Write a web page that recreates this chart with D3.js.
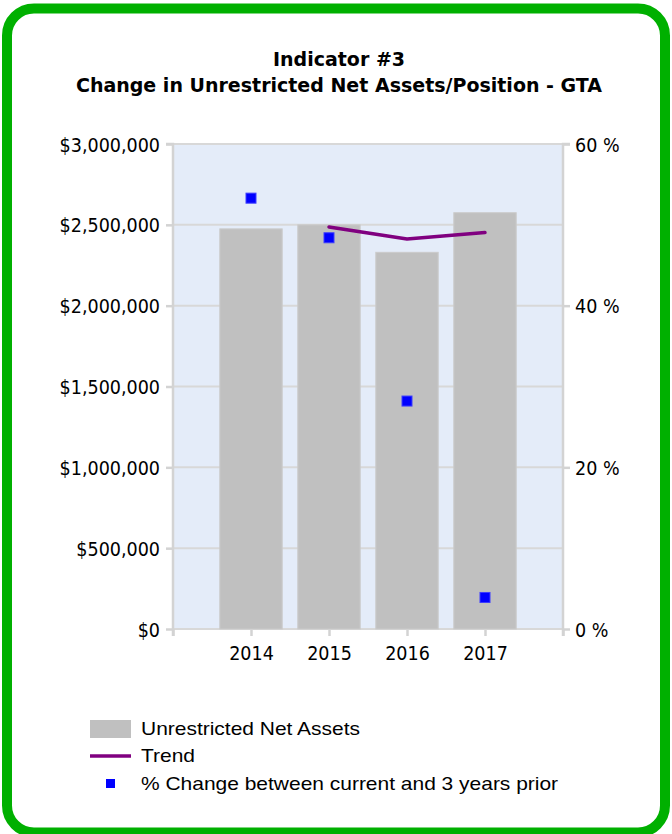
<!DOCTYPE html>
<html>
<head>
<meta charset="utf-8">
<script src="https://cdn.jsdelivr.net/npm/d3@7/dist/d3.min.js"></script>
<style>
  html, body { margin: 0; padding: 0; background: #ffffff; }
  svg { display: block; }
</style>
</head>
<body>
<svg id="chart" width="672" height="834"></svg>
<script>
// ---- Data ----
const titleLines = ["Indicator #3", "Change in Unrestricted Net Assets/Position - GTA"];
const years = [2014, 2015, 2016, 2017];
const netAssets = [2475000, 2500000, 2330000, 2575000];
const pctChange = [53.3, 48.4, 28.2, 3.9];
const trendYears = [2015, 2016, 2017];
const trendValues = [2487000, 2413000, 2452000];
const leftTicks = [0, 500000, 1000000, 1500000, 2000000, 2500000, 3000000];
const rightTicks = [0, 20, 40, 60];
const legendLabels = ["Unrestricted Net Assets", "Trend", "% Change between current and 3 years prior"];

// ---- Layout ----
const svg = d3.select("#chart");
const plot = { left: 173, right: 563, top: 144, bottom: 629 };

// border
svg.append("rect")
  .attr("x", 7).attr("y", 8.5).attr("width", 658).attr("height", 824)
  .attr("rx", 27).attr("ry", 27)
  .attr("fill", "#ffffff").attr("stroke", "#00B000").attr("stroke-width", 10);

// title
svg.append("g").selectAll("text").data(titleLines).join("text")
  .attr("x", 339).attr("y", (d, i) => 66 + i * 26)
  .attr("text-anchor", "middle")
  .attr("font-family", "'DejaVu Sans', sans-serif")
  .attr("font-weight", "bold").attr("font-size", 19)
  .attr("fill", "#000").text(d => d);

// scales
const x = d3.scaleLinear().domain([2013, 2018]).range([plot.left, plot.right]);
const y = d3.scaleLinear().domain([0, 3000000]).range([plot.bottom, plot.top]);
const y2 = d3.scaleLinear().domain([0, 60]).range([plot.bottom, plot.top]);
const barW = x(2013.8) - x(2013);

// plot background
svg.append("rect")
  .attr("x", plot.left).attr("y", plot.top)
  .attr("width", plot.right - plot.left).attr("height", plot.bottom - plot.top)
  .attr("fill", "#E4ECF9");

// gridlines
svg.append("g").selectAll("line").data(leftTicks).join("line")
  .attr("x1", plot.left).attr("x2", plot.right)
  .attr("y1", d => y(d)).attr("y2", d => y(d))
  .attr("stroke", "#D8D8D8").attr("stroke-width", 2);

// bars
svg.append("g").selectAll("rect").data(years).join("rect")
  .attr("x", (d) => x(d) - barW / 2)
  .attr("y", (d, i) => y(netAssets[i]))
  .attr("width", barW)
  .attr("height", (d, i) => y(0) - y(netAssets[i]))
  .attr("fill", "#C0C0C0")
  .attr("stroke", "#CBCBCB").attr("stroke-width", 1);

// axes
const axisColor = "#D3D3D3";
const fontAxis = "'DejaVu Sans Condensed', 'DejaVu Sans', sans-serif";

const leftAxis = svg.append("g").attr("transform", `translate(${plot.left},0)`)
  .call(d3.axisLeft(y).tickValues(leftTicks).tickSize(7).tickPadding(6)
    .tickFormat(d => "$" + d3.format(",")(d)));
const rightAxis = svg.append("g").attr("transform", `translate(${plot.right},0)`)
  .call(d3.axisRight(y2).tickValues(rightTicks).tickSize(7).tickPadding(5)
    .tickFormat(d => d + " %"));
const bottomAxis = svg.append("g").attr("transform", `translate(0,${plot.bottom})`)
  .call(d3.axisBottom(x).tickValues([2013, 2014, 2015, 2016, 2017, 2018]).tickSize(7).tickPadding(10)
    .tickFormat(d => years.includes(d) ? String(d) : ""));

[leftAxis, rightAxis, bottomAxis].forEach(g => {
  g.select(".domain").attr("stroke", axisColor).attr("stroke-width", 2.5);
  g.selectAll(".tick line").attr("stroke", axisColor).attr("stroke-width", 2.5);
  g.selectAll(".tick text").attr("font-family", fontAxis).attr("font-size", 19.5).attr("fill", "#000");
});
leftAxis.select(".domain").attr("d", `M-7,${plot.top}H0V${plot.bottom + 7}`);
rightAxis.select(".domain").attr("d", `M7,${plot.top}H0V${plot.bottom + 7}`);
bottomAxis.select(".domain").attr("d", `M${plot.left},${plot.bottom}H${plot.right}`);
leftAxis.selectAll(".tick text").attr("dy", "0.36em");
rightAxis.selectAll(".tick text").attr("dy", "0.36em");

// trend line
const line = d3.line().x(d => x(d[0])).y(d => y(d[1]));
svg.append("path")
  .datum(trendYears.map((d, i) => [d, trendValues[i]]))
  .attr("d", line)
  .attr("fill", "none").attr("stroke", "#800080").attr("stroke-width", 3.5)
  .attr("stroke-linejoin", "round").attr("stroke-linecap", "round");

// markers
const ms = 10;
svg.append("g").selectAll("rect").data(years).join("rect")
  .attr("x", d => x(d) - ms / 2)
  .attr("y", (d, i) => y2(pctChange[i]) - ms / 2)
  .attr("width", ms).attr("height", ms)
  .attr("fill", "#0000FF").attr("stroke", "#3C3CFF").attr("stroke-width", 1);

// legend
const lg = svg.append("g");
lg.append("rect").attr("x", 90).attr("y", 720).attr("width", 41).attr("height", 18).attr("fill", "#C0C0C0");
lg.append("line").attr("x1", 90).attr("x2", 131).attr("y1", 756).attr("y2", 756)
  .attr("stroke", "#800080").attr("stroke-width", 3.5);
lg.append("rect").attr("x", 106).attr("y", 779).attr("width", 9).attr("height", 9).attr("fill", "#0000FF");
lg.append("g").attr("transform", "translate(141,0) scale(1.165,1)")
  .attr("font-family", "'Liberation Sans', Arial, sans-serif").attr("font-size", 18)
  .selectAll("text").data(legendLabels).join("text")
  .attr("x", 0).attr("y", (d, i) => 735 + i * 27.5)
  .attr("fill", "#000").text(d => d);
</script>
</body>
</html>
